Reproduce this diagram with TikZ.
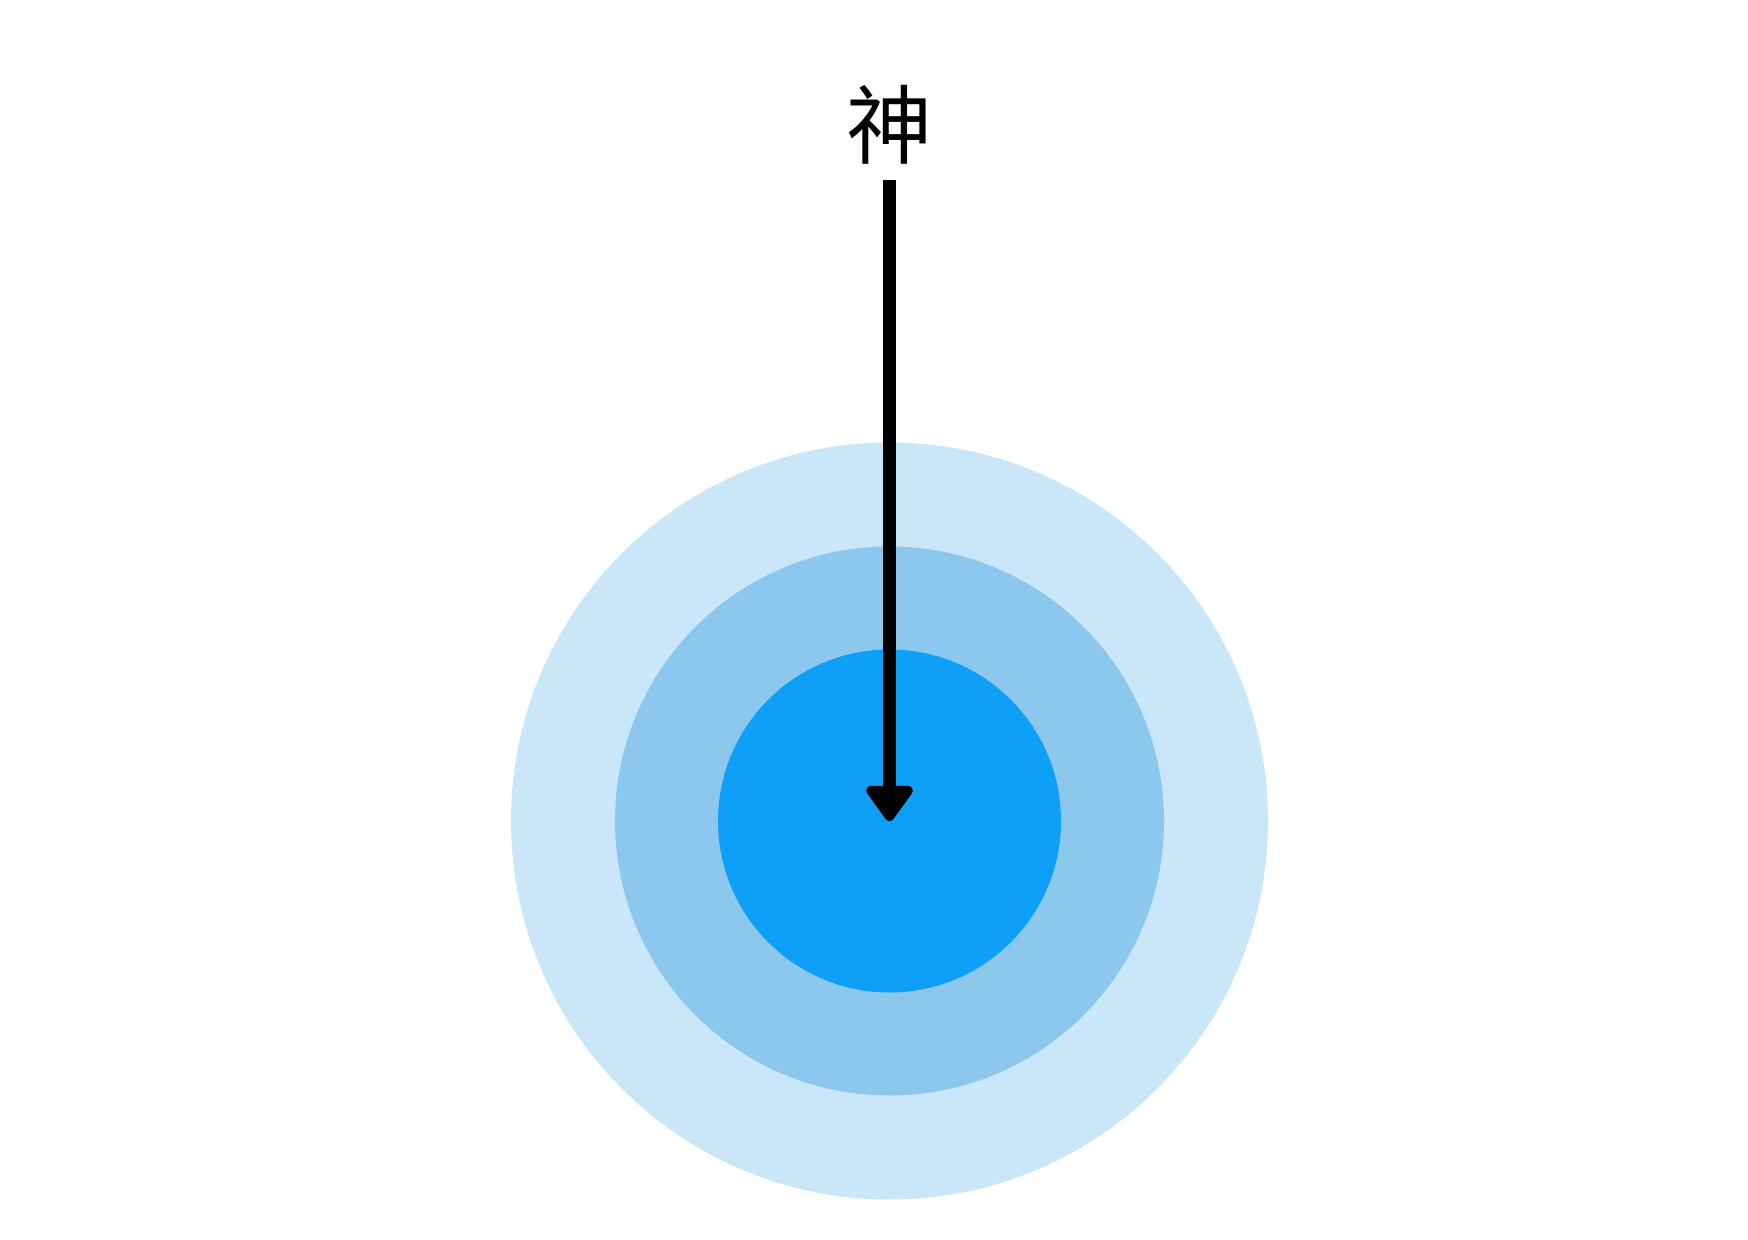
\documentclass[tikz,border=0pt]{standalone}
\usepackage{fontspec}
\newfontfamily\cjk{Noto Sans CJK SC}
\usetikzlibrary{arrows.meta}
\definecolor{ringouter}{HTML}{C9E7F8}
\definecolor{ringmid}{HTML}{8CC8EE}
\definecolor{ringinner}{HTML}{0EA0F8}
\tikzset{
  ring/.style={draw=none},
  godlabel/.style={font=\cjk\fontsize{43pt}{50pt}\selectfont, inner sep=0pt},
  godarrow/.style={line width=6.2pt, -{Triangle[width=26.5pt,length=19.5pt,round]}}
}
\begin{document}
\begin{tikzpicture}[x=0.5pt,y=-0.5pt]
\useasboundingbox (0,0) rectangle (1748,1240);
\coordinate (c) at (889.5,821);
\fill[ringouter] (c) circle (378.5);
\fill[ringmid] (c) circle (274.5);
\fill[ringinner] (c) circle (171.5);
\node[godlabel] (god) at (889.5,125) {神};
\coordinate (start) at (889.5,180);
\draw[godarrow] (start) -- (c);
\end{tikzpicture}
\end{document}
